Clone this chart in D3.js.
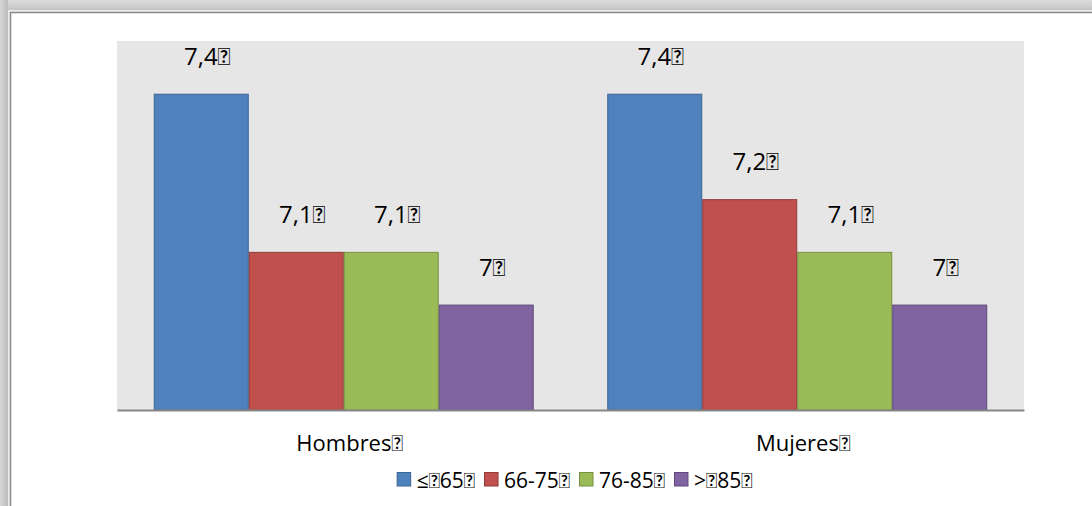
<!DOCTYPE html>
<html>
<head>
<meta charset="utf-8">
<script src="https://cdn.jsdelivr.net/npm/d3@7"></script>
<style>
  body { margin: 0; background: #fff; }
  svg text { font-family: "Open Sans", Lato, sans-serif; fill: #000; }
  .tofu { font-family: Lato, sans-serif; }
</style>
</head>
<body>
<svg id="chart" width="1092" height="506"></svg>
<script>
// data
var categories = ["Hombres", "Mujeres"];
var groups = ["\u2264 65", "66-75", "76-85", "> 85"];
var age65 = [7.4, 7.4];
var age75 = [7.1, 7.2];
var age85 = [7.1, 7.1];
var ageOver = [7.0, 7.0];
var colors = ["#4F81BD", "#C0504D", "#9BBB59", "#8064A2"];
var strokes = ["#3A6494", "#8E3B39", "#76903F", "#5E4A7A"];

var TOFU = "\uE000"; // the unrendered char that follows every label in the original

var series = [age65, age75, age85, ageOver];

var width = 1092, height = 506;
var plot = { left: 117, right: 1024, top: 41, bottom: 410 };

var svg = d3.select("#chart");

// writes parts into a text node, the missing char after each shown as a box
function fill(sel, parts) {
  sel.text(null);
  parts.forEach(function (p) {
    sel.append("tspan").text(p);
    sel.append("tspan").attr("class", "tofu").text(TOFU);
  });
}

// frame + shadow
var defs = svg.append("defs");
var gTop = defs.append("linearGradient").attr("id", "shTop")
    .attr("x1", 0).attr("y1", 0).attr("x2", 0).attr("y2", 1);
gTop.append("stop").attr("offset", "0%").attr("stop-color", "#dcdcdc");
gTop.append("stop").attr("offset", "100%").attr("stop-color", "#c4c4c4");
var gLeft = defs.append("linearGradient").attr("id", "shLeft")
    .attr("x1", 0).attr("y1", 0).attr("x2", 1).attr("y2", 0);
gLeft.append("stop").attr("offset", "0%").attr("stop-color", "#d6d6d6");
gLeft.append("stop").attr("offset", "100%").attr("stop-color", "#bcbcbc");

svg.append("rect").attr("x", 0).attr("y", 0).attr("width", width).attr("height", 10)
    .attr("fill", "url(#shTop)");
svg.append("rect").attr("x", 0).attr("y", 0).attr("width", 8).attr("height", height)
    .attr("fill", "url(#shLeft)");
svg.append("rect").attr("x", 8).attr("y", 10).attr("width", width).attr("height", height)
    .attr("fill", "#ececec");
svg.append("rect").attr("x", 10.5).attr("y", 12.5).attr("width", width).attr("height", height)
    .attr("fill", "#fff").attr("stroke", "#8a8a8a").attr("stroke-width", 1.5);

// plot background
svg.append("rect")
    .attr("x", plot.left).attr("y", plot.top)
    .attr("width", plot.right - plot.left).attr("height", plot.bottom - plot.top)
    .attr("fill", "#e6e6e6");

var x0 = d3.scaleBand().domain(categories).range([plot.left, plot.right]).padding(0);
var x1 = d3.scaleBand().domain(groups).range([0, x0.bandwidth()])
    .paddingInner(0).paddingOuter(0.387);
var y = d3.scaleLinear().domain([6.8, 7.5]).range([plot.bottom, plot.top]);

var fmt = function (v) { return String(v).replace(".", ","); };

var g = svg.selectAll(".grp")
    .data(categories)
    .enter().append("g")
    .attr("class", "grp")
    .attr("transform", function (d) { return "translate(" + x0(d) + ",0)"; });

g.selectAll("rect")
    .data(function (d, i) { return series.map(function (s, k) { return { k: k, v: s[i] }; }); })
    .enter().append("rect")
    .attr("x", function (d) { return x1(groups[d.k]) + 0.5; })
    .attr("y", function (d) { return y(d.v) + 0.5; })
    .attr("width", x1.bandwidth() - 1)
    .attr("height", function (d) { return y.range()[0] - y(d.v) - 0.5; })
    .attr("fill", function (d) { return colors[d.k]; })
    .attr("stroke", function (d) { return strokes[d.k]; })
    .attr("stroke-width", 1);

g.selectAll(".val")
    .data(function (d, i) { return series.map(function (s, k) { return { k: k, v: s[i] }; }); })
    .enter().append("text")
    .attr("class", "val")
    .attr("x", function (d) { return x1(groups[d.k]) + x1.bandwidth() / 2 + 6; })
    .attr("y", function (d) { return y(d.v) - 29; })
    .attr("text-anchor", "middle")
    .attr("font-size", "24px")
    .each(function (d) { fill(d3.select(this), [fmt(d.v)]); });

// x axis
var xAxis = svg.append("g")
    .attr("transform", "translate(0," + plot.bottom + ")")
    .call(d3.axisBottom(x0).tickSize(0).tickPadding(25));
xAxis.select(".domain").attr("stroke", "#878787").attr("stroke-width", 2);
xAxis.selectAll("text")
    .attr("font-size", "22px")
    .attr("dx", 6)
    .style("font-family", "'Open Sans', Lato, sans-serif")
    .attr("fill", "#000")
    .each(function (d) { fill(d3.select(this), [d]); });

// legend
var legend = svg.append("g");
var lx = 0;
groups.forEach(function (name, k) {
  var item = legend.append("g").attr("transform", "translate(" + lx + ",0)");
  item.append("rect")
      .attr("x", 0.5).attr("y", 472.5).attr("width", 13.5).attr("height", 13.5)
      .attr("fill", colors[k]).attr("stroke", strokes[k]);
  var t = item.append("text")
      .attr("x", 20).attr("y", 488)
      .attr("font-size", "21px");
  fill(t, name.split(" "));
  lx += 20 + t.node().getComputedTextLength() + 9;
});
var lw = lx - 9;
legend.attr("transform", "translate(" + (574.5 - lw / 2) + ",0)");
</script>
</body>
</html>
